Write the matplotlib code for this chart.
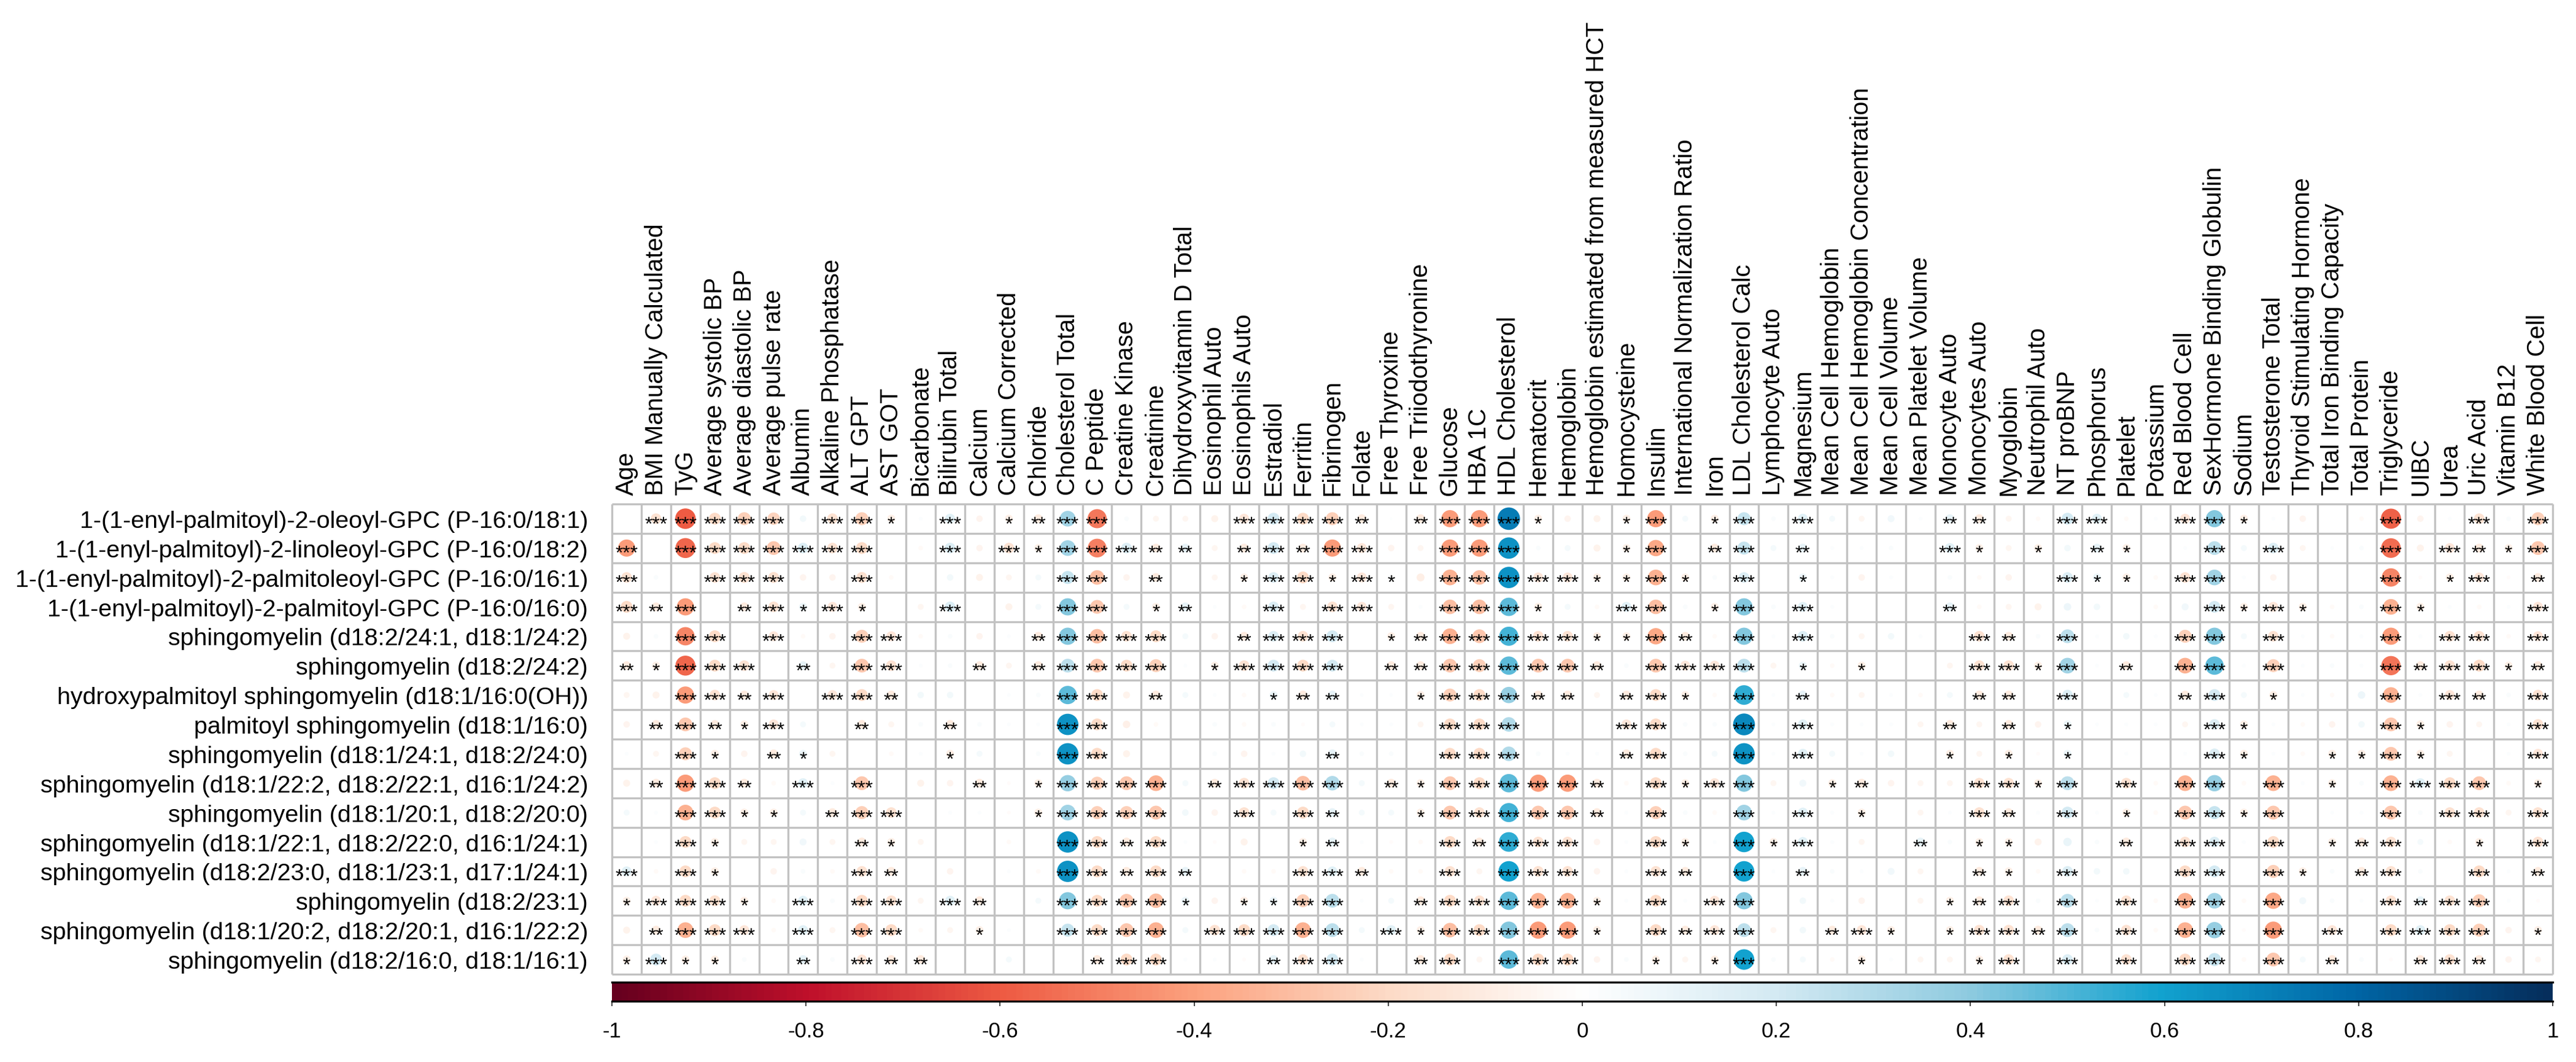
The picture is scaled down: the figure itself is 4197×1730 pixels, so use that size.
# corrplot-style circle matrix: lipids vs clinical measures

import numpy as np
import matplotlib
matplotlib.use("Agg")
import matplotlib.pyplot as plt
from matplotlib.colors import LinearSegmentedColormap
from matplotlib.patches import Circle

plt.rcParams['font.family'] = ['Liberation Sans', 'DejaVu Sans']

nan = float("nan")

row_labels = [
    "1-(1-enyl-palmitoyl)-2-oleoyl-GPC (P-16:0/18:1)",
    "1-(1-enyl-palmitoyl)-2-linoleoyl-GPC (P-16:0/18:2)",
    "1-(1-enyl-palmitoyl)-2-palmitoleoyl-GPC (P-16:0/16:1)",
    "1-(1-enyl-palmitoyl)-2-palmitoyl-GPC (P-16:0/16:0)",
    "sphingomyelin (d18:2/24:1, d18:1/24:2)",
    "sphingomyelin (d18:2/24:2)",
    "hydroxypalmitoyl sphingomyelin (d18:1/16:0(OH))",
    "palmitoyl sphingomyelin (d18:1/16:0)",
    "sphingomyelin (d18:1/24:1, d18:2/24:0)",
    "sphingomyelin (d18:1/22:2, d18:2/22:1, d16:1/24:2)",
    "sphingomyelin (d18:1/20:1, d18:2/20:0)",
    "sphingomyelin (d18:1/22:1, d18:2/22:0, d16:1/24:1)",
    "sphingomyelin (d18:2/23:0, d18:1/23:1, d17:1/24:1)",
    "sphingomyelin (d18:2/23:1)",
    "sphingomyelin (d18:1/20:2, d18:2/20:1, d16:1/22:2)",
    "sphingomyelin (d18:2/16:0, d18:1/16:1)",
]

col_labels = [
    "Age", "BMI Manually Calculated", "TyG", "Average systolic BP",
    "Average diastolic BP", "Average pulse rate", "Albumin",
    "Alkaline Phosphatase", "ALT GPT", "AST GOT", "Bicarbonate",
    "Bilirubin Total", "Calcium", "Calcium Corrected", "Chloride",
    "Cholesterol Total", "C Peptide", "Creatine Kinase", "Creatinine",
    "Dihydroxyvitamin D Total", "Eosinophil Auto", "Eosinophils Auto",
    "Estradiol", "Ferritin", "Fibrinogen", "Folate", "Free Thyroxine",
    "Free Triiodothyronine", "Glucose", "HBA 1C", "HDL Cholesterol",
    "Hematocrit", "Hemoglobin", "Hemoglobin estimated from measured HCT",
    "Homocysteine", "Insulin", "International Normalization Ratio", "Iron",
    "LDL Cholesterol Calc", "Lymphocyte Auto", "Magnesium",
    "Mean Cell Hemoglobin", "Mean Cell Hemoglobin Concentration",
    "Mean Cell Volume", "Mean Platelet Volume", "Monocyte Auto",
    "Monocytes Auto", "Myoglobin", "Neutrophil Auto", "NT proBNP",
    "Phosphorus", "Platelet", "Potassium", "Red Blood Cell",
    "SexHormone Binding Globulin", "Sodium", "Testosterone Total",
    "Thyroid Stimulating Hormone", "Total Iron Binding Capacity",
    "Total Protein", "Triglyceride", "UIBC", "Urea", "Uric Acid",
    "Vitamin B12", "White Blood Cell",
]

# correlation coefficients, one list per lipid (66 clinical measures each)
corr_values = [
    [nan, -0.16, -0.6, -0.2, -0.24, -0.22, 0.06, -0.16, -0.24, -0.09,
     0.02, 0.14, -0.06, -0.09, -0.11, 0.35, -0.52, 0.03, -0.05, -0.05,
     -0.07, -0.14, 0.2, -0.2, -0.24, -0.11, 0.01, -0.11, -0.42, -0.42,
     0.72, -0.09, -0.06, -0.07, -0.09, -0.42, 0.05, -0.09, 0.24, 0.03,
     0.14, 0.05, -0.05, 0.07, 0.02, 0.11, -0.11, -0.05, -0.03, 0.2,
     0.14, -0.03, 0.02, -0.14, 0.42, -0.09, 0.02, -0.06, 0.0, -0.03,
     -0.58, -0.06, 0.02, -0.16, 0.03, -0.24],
    [-0.42, nan, -0.57, -0.2, -0.2, -0.27, 0.16, -0.16, -0.2, 0.0,
     -0.03, 0.16, -0.06, -0.16, -0.09, 0.35, -0.5, 0.16, -0.11, 0.11,
     -0.05, -0.11, 0.2, -0.11, -0.42, -0.14, -0.06, -0.05, -0.42, -0.42,
     0.65, 0.03, 0.05, -0.07, -0.09, -0.38, 0.0, -0.11, 0.24, 0.05,
     0.11, 0.02, 0.02, 0.03, 0.0, 0.14, -0.09, -0.05, -0.09, 0.06,
     0.11, -0.09, 0.0, 0.02, 0.27, 0.05, 0.16, -0.05, 0.02, 0.03,
     -0.55, -0.07, -0.14, -0.11, -0.09, -0.27],
    [-0.16, 0.03, nan, -0.16, -0.17, -0.17, -0.06, -0.06, -0.17, -0.03,
     0.0, 0.06, -0.07, -0.05, 0.05, 0.24, -0.3, -0.06, -0.11, 0.0,
     -0.05, -0.09, 0.16, -0.2, -0.09, -0.14, 0.03, -0.09, -0.35, -0.3,
     0.65, -0.14, -0.14, -0.09, -0.09, -0.35, -0.09, 0.03, 0.16, 0.0,
     0.09, 0.02, -0.06, 0.02, 0.0, 0.03, -0.03, -0.06, 0.0, 0.16,
     0.09, -0.09, -0.03, -0.16, 0.35, 0.02, -0.06, 0.0, 0.0, 0.0,
     -0.48, -0.02, -0.09, -0.14, -0.02, -0.11],
    [-0.2, -0.11, -0.42, nan, -0.11, -0.16, 0.09, -0.14, -0.09, 0.0,
     -0.05, 0.16, 0.0, -0.07, 0.05, 0.42, -0.27, 0.05, -0.09, 0.11,
     0.02, -0.03, 0.16, -0.05, -0.16, -0.14, -0.05, 0.02, -0.3, -0.3,
     0.48, -0.09, 0.05, -0.03, 0.14, -0.3, 0.03, -0.09, 0.42, 0.03,
     0.14, 0.02, 0.0, 0.0, 0.0, 0.11, -0.03, -0.05, -0.07, 0.08,
     0.06, 0.0, -0.03, 0.07, 0.2, -0.09, -0.14, -0.09, -0.03, 0.03,
     -0.35, -0.09, 0.02, -0.03, 0.02, -0.14],
    [-0.07, 0.03, -0.48, -0.2, nan, -0.14, -0.03, -0.06, -0.24, -0.14,
     -0.03, 0.03, -0.06, 0.02, -0.11, 0.42, -0.3, -0.16, -0.2, 0.05,
     -0.06, -0.11, 0.16, -0.16, 0.2, 0.0, -0.09, -0.11, -0.35, -0.27,
     0.52, -0.16, -0.16, -0.09, -0.09, -0.38, -0.11, -0.03, 0.42, 0.02,
     0.16, 0.03, -0.05, 0.06, 0.02, 0.0, -0.16, -0.11, 0.03, 0.27,
     0.02, 0.06, 0.02, -0.24, 0.42, 0.05, -0.16, 0.02, -0.03, 0.02,
     -0.42, 0.02, -0.16, -0.16, -0.03, -0.14],
    [-0.11, -0.09, -0.57, -0.2, -0.16, nan, 0.11, -0.05, -0.27, -0.16,
     0.02, 0.03, -0.11, -0.05, -0.11, 0.27, -0.27, -0.2, -0.24, 0.02,
     -0.09, -0.16, 0.2, -0.2, 0.2, 0.0, -0.11, -0.11, -0.27, -0.24,
     0.48, -0.27, -0.27, -0.11, 0.03, -0.27, -0.14, -0.14, 0.27, -0.05,
     0.09, -0.03, -0.09, 0.0, 0.0, -0.05, -0.16, -0.16, -0.09, 0.35,
     0.02, -0.11, 0.0, -0.35, 0.48, 0.02, -0.24, 0.02, 0.03, 0.02,
     -0.53, -0.11, -0.16, -0.2, -0.09, -0.11],
    [-0.05, -0.07, -0.42, -0.16, -0.11, -0.14, nan, -0.14, -0.2, -0.11,
     0.06, 0.06, 0.0, 0.02, 0.03, 0.48, -0.2, -0.07, -0.11, 0.05,
     0.02, -0.03, 0.09, -0.11, 0.11, 0.02, 0.02, -0.09, -0.24, -0.2,
     0.38, -0.11, -0.11, -0.05, -0.11, -0.2, -0.09, -0.03, 0.55, 0.02,
     0.11, -0.03, -0.05, 0.02, -0.03, 0.05, -0.11, -0.11, 0.0, 0.16,
     0.0, 0.05, 0.02, -0.11, 0.2, 0.05, -0.09, 0.02, -0.03, 0.08,
     -0.35, 0.02, -0.14, -0.11, 0.03, -0.16],
    [-0.06, -0.11, -0.27, -0.11, -0.09, -0.14, 0.05, nan, -0.11, -0.05,
     0.03, -0.11, 0.03, 0.02, 0.02, 0.65, -0.2, -0.08, -0.03, 0.0,
     0.03, -0.03, 0.03, -0.02, 0.05, 0.02, 0.02, -0.05, -0.2, -0.2,
     0.3, 0.0, 0.0, 0.0, -0.14, -0.2, 0.03, 0.03, 0.68, 0.02,
     0.14, 0.02, 0.02, 0.02, -0.05, -0.11, -0.05, -0.11, -0.06, 0.09,
     0.02, 0.02, 0.02, -0.05, 0.16, -0.09, 0.02, -0.03, -0.06, 0.06,
     -0.27, -0.09, -0.06, -0.05, 0.02, -0.16],
    [0.02, -0.05, -0.24, -0.09, -0.06, -0.11, 0.09, -0.05, nan, -0.03,
     0.02, -0.09, 0.05, 0.0, 0.03, 0.65, -0.2, -0.07, 0.0, 0.0,
     0.03, -0.06, 0.02, 0.06, 0.11, 0.03, 0.03, 0.0, -0.2, -0.2,
     0.3, 0.03, 0.02, 0.02, -0.11, -0.2, 0.03, 0.05, 0.65, 0.02,
     0.14, 0.05, 0.02, 0.06, 0.0, -0.09, -0.05, -0.09, -0.02, 0.09,
     0.0, 0.02, 0.0, 0.02, 0.16, -0.09, 0.02, -0.03, -0.09, -0.09,
     -0.27, -0.09, -0.05, 0.0, 0.02, -0.14],
    [-0.07, -0.11, -0.42, -0.2, -0.11, -0.03, 0.14, 0.02, -0.27, nan,
     -0.07, -0.06, -0.11, -0.02, -0.09, 0.38, -0.24, -0.27, -0.35, 0.05,
     -0.11, -0.16, 0.2, -0.3, 0.3, 0.05, -0.11, -0.09, -0.27, -0.2,
     0.48, -0.42, -0.42, -0.11, -0.03, -0.2, -0.09, -0.14, 0.42, -0.05,
     0.07, -0.09, -0.11, -0.06, -0.05, -0.05, -0.16, -0.16, -0.09, 0.27,
     0.0, -0.16, -0.03, -0.35, 0.38, -0.03, -0.35, 0.02, -0.09, 0.03,
     -0.35, 0.14, -0.2, -0.27, -0.03, -0.09],
    [0.05, 0.02, -0.35, -0.2, -0.09, -0.09, 0.05, -0.11, -0.24, -0.16,
     nan, 0.02, 0.02, -0.02, -0.09, 0.35, -0.24, -0.24, -0.27, 0.06,
     -0.06, -0.16, 0.05, -0.2, 0.11, 0.05, 0.05, -0.09, -0.27, -0.16,
     0.52, -0.27, -0.27, -0.11, 0.02, -0.24, 0.03, -0.03, 0.35, 0.02,
     0.14, 0.02, -0.09, 0.0, -0.05, 0.02, -0.16, -0.11, 0.02, 0.2,
     0.02, -0.09, -0.03, -0.27, 0.24, -0.09, -0.27, 0.0, 0.02, 0.02,
     -0.27, 0.03, -0.16, -0.16, -0.05, -0.16],
    [0.0, 0.02, -0.2, -0.09, -0.05, -0.05, 0.07, -0.05, -0.11, -0.09,
     -0.05, nan, 0.0, -0.03, 0.0, 0.65, -0.2, -0.11, -0.2, 0.02,
     -0.02, -0.07, 0.0, -0.09, 0.11, 0.02, -0.02, -0.03, -0.2, -0.11,
     0.55, -0.16, -0.16, -0.06, 0.02, -0.2, -0.09, 0.02, 0.6, -0.09,
     0.14, 0.02, -0.05, 0.0, 0.11, 0.03, -0.09, -0.09, -0.07, 0.1,
     0.03, -0.11, 0.0, -0.16, 0.16, 0.02, -0.2, 0.0, -0.09, -0.11,
     -0.16, 0.05, -0.03, -0.09, 0.0, -0.16],
    [0.14, -0.03, -0.2, -0.09, 0.0, -0.06, 0.03, -0.03, -0.16, -0.11,
     0.0, -0.06, nan, 0.02, -0.03, 0.65, -0.2, -0.11, -0.2, 0.11,
     0.0, -0.03, -0.03, -0.16, 0.14, -0.11, -0.03, -0.03, -0.16, -0.05,
     0.6, -0.16, -0.16, -0.06, 0.02, -0.16, -0.11, 0.0, 0.6, 0.02,
     0.11, 0.03, 0.02, 0.07, -0.05, 0.0, -0.11, -0.09, -0.03, 0.16,
     0.06, 0.06, 0.0, -0.2, 0.2, 0.0, -0.24, -0.09, 0.03, -0.11,
     -0.16, 0.03, 0.0, -0.2, 0.02, -0.11],
    [-0.09, -0.14, -0.2, -0.17, -0.09, -0.03, 0.14, 0.03, -0.2, -0.16,
     -0.05, 0.14, -0.11, nan, 0.05, 0.42, -0.2, -0.27, -0.3, 0.09,
     -0.06, -0.09, 0.09, -0.24, 0.27, 0.02, 0.05, -0.11, -0.2, -0.16,
     0.48, -0.35, -0.35, -0.09, 0.02, -0.2, 0.02, -0.14, 0.42, 0.0,
     0.06, 0.02, -0.06, 0.0, -0.05, -0.09, -0.11, -0.16, 0.03, 0.27,
     0.02, -0.16, -0.03, -0.35, 0.35, -0.03, -0.38, 0.07, 0.03, 0.02,
     -0.16, 0.11, -0.16, -0.24, 0.02, -0.02],
    [-0.07, -0.11, -0.35, -0.2, -0.14, -0.03, 0.14, -0.05, -0.3, -0.2,
     -0.03, -0.05, -0.09, 0.02, nan, 0.24, -0.2, -0.27, -0.35, 0.05,
     -0.16, -0.2, 0.2, -0.35, 0.27, 0.05, 0.14, -0.09, -0.3, -0.2,
     0.42, -0.42, -0.42, -0.09, 0.0, -0.2, -0.11, -0.14, 0.27, -0.05,
     0.06, -0.11, -0.14, -0.09, 0.0, -0.09, -0.16, -0.16, -0.11, 0.27,
     0.03, -0.16, -0.03, -0.35, 0.38, -0.02, -0.42, 0.0, -0.14, 0.0,
     -0.2, 0.14, -0.2, -0.24, -0.06, -0.09],
    [-0.09, 0.2, -0.09, -0.09, 0.03, 0.0, 0.11, 0.03, -0.14, -0.11,
     -0.11, 0.0, 0.0, 0.05, 0.0, nan, -0.11, -0.2, -0.2, 0.02,
     0.02, -0.02, 0.11, -0.16, 0.2, 0.02, 0.0, -0.11, -0.2, -0.05,
     0.48, -0.2, -0.2, -0.06, 0.03, -0.09, -0.05, -0.09, 0.6, 0.03,
     0.05, -0.03, -0.09, 0.02, -0.05, -0.05, -0.09, -0.16, 0.0, 0.16,
     0.0, -0.16, 0.0, -0.2, 0.24, -0.03, -0.27, 0.05, -0.11, 0.03,
     -0.02, -0.11, -0.16, -0.11, -0.06, -0.05],
]

# number of significance stars per cell (0 = none), grouped by ten columns
stars = [
    "0333330331 0301233000 0333320233 3100130130 3000022003 3003310000 300303",
    "3033333330 0303133322 0232330033 3000130230 2000031010 2100303000 303213",
    "3003330030 0000033020 0133131033 3331131030 1000000003 1103300000 301302",
    "3230231310 0300033012 0030330033 3100330130 3000020000 0000313100 310003",
    "0033030033 0000233330 0233301233 3331132030 3000003203 0003303000 303303",
    "2133302033 0020233330 1333302233 3332033330 1010003313 0203303000 323312",
    "0033230332 0000033020 0012200133 3220231030 2000002203 0002301000 303203",
    "0232130020 0200033000 0000000033 3000330030 3000020201 0000310000 310003",
    "0031021000 0100033000 0000200033 3000230030 3000010101 0000310011 310003",
    "0233203030 0020133330 2333302133 3332031330 0120003313 0303303010 333301",
    "0033110233 0000133330 0303200133 3332030030 3010003203 0103313000 303303",
    "0031000021 0000033230 0001200032 3330031031 3000201100 0203303012 300103",
    "3031000032 0000033232 0003320030 3330032030 2000002103 0003303102 300302",
    "1333103033 0320033331 0113300233 3331030330 0000012303 0303303000 323300",
    "0233303033 0010033330 3333303133 3331032330 0231013323 0303303030 333301",
    "1311002032 2000002330 0023300230 3330010130 0010001303 0303303020 023200",
]

colorbar_ticks = [-1, -0.8, -0.6, -0.4, -0.2, 0, 0.2, 0.4, 0.6, 0.8, 1]
colorbar_labels = ["-1", "-0.8", "-0.6", "-0.4", "-0.2", "0",
                   "0.2", "0.4", "0.6", "0.8", "1"]

cmap = LinearSegmentedColormap.from_list("corr", [
    "#67001F", "#C0102B", "#EE5B43", "#FCA27F", "#FDDBC7", "#FFFFFF",
    "#D4EAF3", "#8FCBE0", "#12A2CF", "#0066A6", "#062E5C"])

W, H = 4197, 1731
fig = plt.figure(figsize=(W / 100, H / 100), dpi=100)

n_rows, n_cols = len(row_labels), len(col_labels)
ax = fig.add_axes([997 / W, (H - 1588) / H, 3162 / W, 766 / H])
ax.set_xlim(0, n_cols)
ax.set_ylim(n_rows, 0)

star_fs = 23
for i in range(n_rows):
    sig = stars[i].replace(" ", "")
    for j in range(n_cols):
        r = corr_values[i][j]
        if np.isnan(r):
            continue
        ax.add_patch(Circle((j + 0.5, i + 0.5), 0.45 * np.sqrt(abs(r)),
                            facecolor=cmap((r + 1) / 2), edgecolor='none', zorder=2))
        n = int(sig[j])
        if n:
            ax.annotate('*' * n, (j + 0.5, i + 0.5), xytext=(0, -0.55 * star_fs),
                        textcoords='offset points', ha='center', va='baseline',
                        fontsize=star_fs, color='black', zorder=3)

grid_kw = dict(colors='#c2c2c2', linewidth=2.4, clip_on=False, zorder=1)
ax.vlines(np.arange(n_cols + 1), 0, n_rows, **grid_kw)
ax.hlines(np.arange(n_rows + 1), 0, n_cols, **grid_kw)

ax.xaxis.tick_top()
ax.set_xticks(np.arange(n_cols) + 0.5)
ax.set_xticklabels(col_labels, rotation=90, fontsize=28.8)
ax.set_yticks(np.arange(n_rows) + 0.5)
ax.set_yticklabels(row_labels, fontsize=28.4)
ax.tick_params(axis='x', length=0, pad=11)
ax.tick_params(axis='y', length=0, pad=28)
for s in ax.spines.values():
    s.set_visible(False)

# colour legend under the matrix
cax = fig.add_axes([997 / W, (H - 1632) / H, 3162 / W, 31 / H])
gradient = np.linspace(-1, 1, 600).reshape(1, -1)
cax.imshow(gradient, extent=[-1, 1, 0, 1], aspect='auto', cmap=cmap, vmin=-1, vmax=1)
cax.set_xlim(-1, 1)
cax.set_yticks([])
cax.set_xticks(colorbar_ticks)
cax.set_xticklabels(colorbar_labels, fontsize=25)
cax.tick_params(axis='x', direction='out', length=6, width=1.3, pad=17, color='#333333')
cax.spines['left'].set_visible(False)
cax.spines['right'].set_visible(False)
cax.spines['top'].set_linewidth(2.4)
cax.spines['bottom'].set_linewidth(2.4)

fig.savefig('out.png', dpi=100)
